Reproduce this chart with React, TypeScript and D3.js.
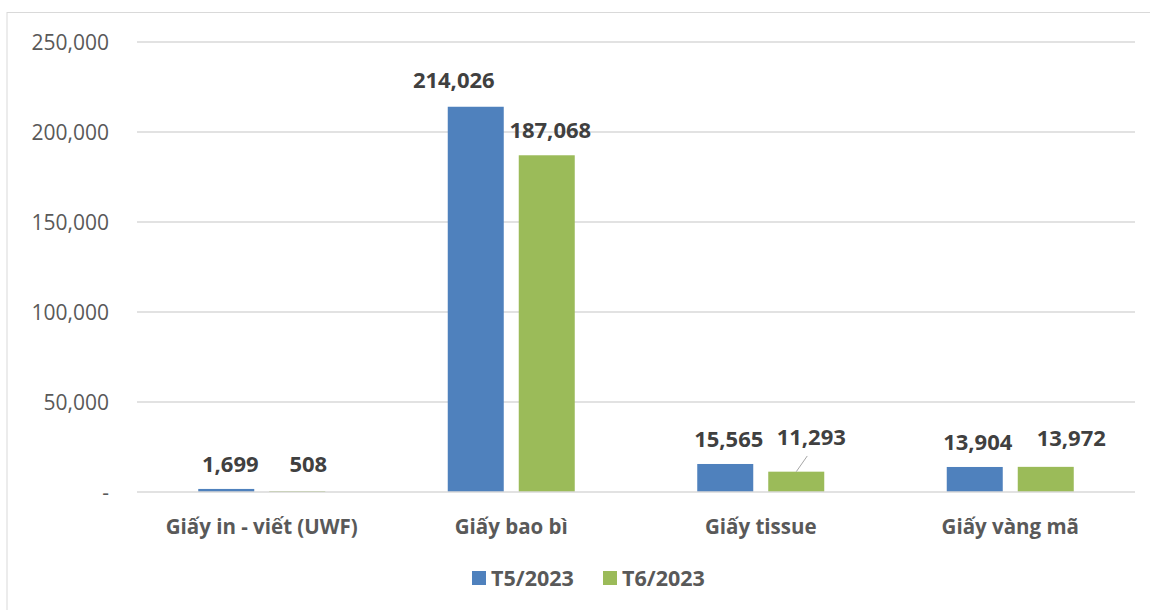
import React from "react";
import * as d3 from "d3";

const categories = ["Giấy in - viết (UWF)", "Giấy bao bì", "Giấy tissue", "Giấy vàng mã"];
const seriesNames = ["T5/2023", "T6/2023"];
const t5Values = [1699, 214026, 15565, 13904];
const t6Values = [508, 187068, 11293, 13972];
const yTicks = [0, 50000, 100000, 150000, 200000, 250000];

// label nudges [dx, extra dy up] per category per series (manual placement in reference)
const labelNudges: [number, number][][] = [
  [[4, 0], [11, 2]],
  [[-22, 2], [3.5, 0]],
  [[3.5, 0], [15, 9.7]],
  [[3, 0], [25.5, 4]],
];
const leaderLines = [[false, false], [false, false], [false, true], [false, false]];

const colors = ["#4F81BD", "#9BBB59"];
const W = 1150;
const H = 610;
const FONT = "'Open Sans', 'Noto Sans', sans-serif";

export default function App() {
  const plotLeft = 137;
  const plotRight = 1135;
  const plotTop = 42;
  const plotBottom = 492;

  const x0 = d3.scaleBand<string>().domain(categories).range([plotLeft, plotRight]).paddingInner(0).paddingOuter(0);
  const barW = 56;
  const gap = 15;
  const groupW = barW * 2 + gap;
  const x1 = d3
    .scaleBand<string>()
    .domain(seriesNames)
    .range([-groupW / 2, groupW / 2])
    .paddingInner(gap / (barW + gap))
    .paddingOuter(0);
  const y = d3.scaleLinear().domain([0, 250000]).range([plotBottom, plotTop]);
  const fmt = d3.format(",");
  const seriesValues = [t5Values, t6Values];

  const bars: JSX.Element[] = [];
  const labels: JSX.Element[] = [];
  categories.forEach((c, ci) => {
    const cx = (x0(c) ?? 0) + x0.bandwidth() / 2;
    seriesNames.forEach((s, si) => {
      const v = seriesValues[si][ci];
      const bx = cx + (x1(s) ?? 0);
      const top = y(v);
      bars.push(
        <rect key={`b${ci}${si}`} x={bx} y={top} width={x1.bandwidth()} height={plotBottom - top} fill={colors[si]} />
      );
      const [dx, dy] = labelNudges[ci][si];
      const lx = bx + x1.bandwidth() / 2 + dx;
      const ly = top - 17 - dy;
      labels.push(
        <text key={`l${ci}${si}`} x={lx} y={ly} textAnchor="middle" fontFamily={FONT} fontWeight="bold" fontSize={22} fill="#404040">
          {fmt(v)}
        </text>
      );
      if (leaderLines[ci][si]) {
        labels.push(
          <line key={`ll${ci}${si}`} x1={lx - 4} y1={ly + 11} x2={bx + x1.bandwidth() / 2} y2={top} stroke="#a6a6a6" strokeWidth={1} />
        );
      }
    });
  });

  return (
    <div style={{ position: "absolute", left: 0, top: 0 }}>
      <svg width={W} height={H} style={{ display: "block", background: "#fff" }}>
        <rect x={7} y={12.5} width={W + 20} height={H + 20} fill="#fff" stroke="#d9d9d9" strokeWidth={1} />
        {yTicks.map((t) => (
          <g key={t}>
            {t !== 0 && <line x1={plotLeft} x2={plotRight} y1={y(t)} y2={y(t)} stroke="#d9d9d9" strokeWidth={1.3} />}
            <text x={109} y={y(t) + 7.5} textAnchor="end" fontFamily={FONT} fontSize={21} fill="#595959">
              {t === 0 ? "-" : fmt(t)}
            </text>
          </g>
        ))}
        {bars}
        <line x1={plotLeft} x2={plotRight} y1={y(0)} y2={y(0)} stroke="#d9d9d9" strokeWidth={1.6} />
        {labels}
        {categories.map((c) => (
          <text
            key={c}
            x={(x0(c) ?? 0) + x0.bandwidth() / 2}
            y={534}
            textAnchor="middle"
            fontFamily={FONT}
            fontWeight="bold"
            fontSize={20.5}
            fill="#595959"
          >
            {c}
          </text>
        ))}
        {seriesNames.map((s, si) => {
          const lx = 472 + si * 131;
          return (
            <g key={s}>
              <rect x={lx} y={571} width={14} height={14} fill={colors[si]} />
              <text x={lx + 19} y={585.5} fontFamily={FONT} fontWeight="bold" fontSize={21.5} fill="#595959">
                {s}
              </text>
            </g>
          );
        })}
      </svg>
    </div>
  );
}
